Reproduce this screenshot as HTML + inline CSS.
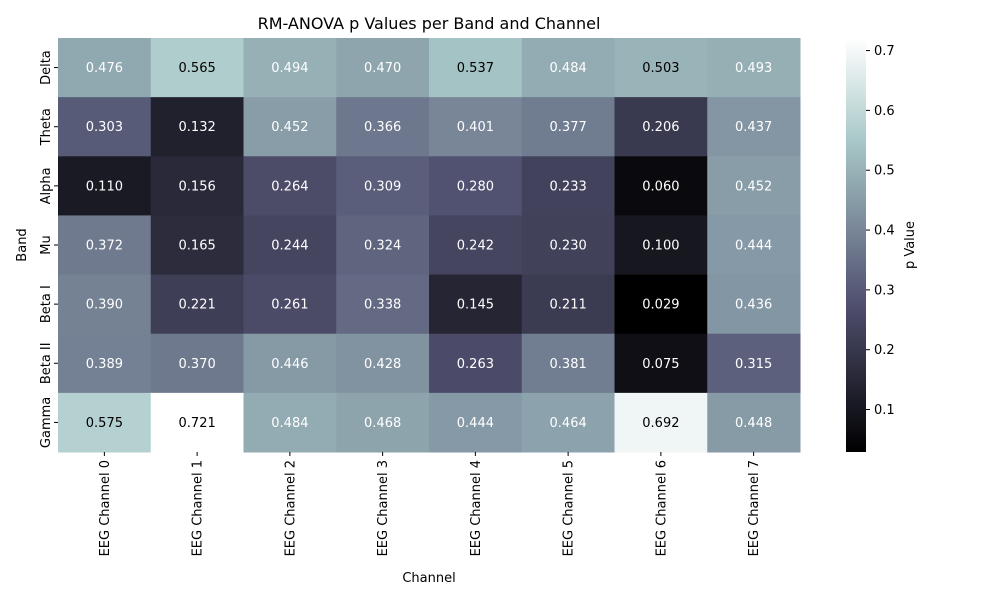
<!DOCTYPE html>
<html><head><meta charset="utf-8"><style>
body{margin:0;background:#fff;font-family:"DejaVu Sans","Liberation Sans",sans-serif}
svg text{font-family:"DejaVu Sans","Liberation Sans",sans-serif}
</style></head><body>
<svg id="chart" width="1000" height="600" xmlns="http://www.w3.org/2000/svg">
<defs><linearGradient id="cbg" x1="0" y1="1" x2="0" y2="0"></linearGradient></defs>
<text x="429" y="29" text-anchor="middle" font-size="16">RM-ANOVA p Values per Band and Channel</text>
<g id="cells"></g><g id="xt"></g><g id="yt"></g><g id="cb"></g>
<text x="429" y="582" text-anchor="middle" font-size="13">Channel</text>
<text transform="translate(26,245) rotate(-90)" text-anchor="middle" font-size="13">Band</text>
<text transform="translate(914,245) rotate(-90)" text-anchor="middle" font-size="13">p Value</text>
</svg>
<script>
const channels=["EEG Channel 0","EEG Channel 1","EEG Channel 2","EEG Channel 3","EEG Channel 4","EEG Channel 5","EEG Channel 6","EEG Channel 7"];
const bands=["Delta","Theta","Alpha","Mu","Beta I","Beta II","Gamma"];
const pValues=[
[0.476,0.565,0.494,0.470,0.537,0.484,0.503,0.493],
[0.303,0.132,0.452,0.366,0.401,0.377,0.206,0.437],
[0.110,0.156,0.264,0.309,0.280,0.233,0.060,0.452],
[0.372,0.165,0.244,0.324,0.242,0.230,0.100,0.444],
[0.390,0.221,0.261,0.338,0.145,0.211,0.029,0.436],
[0.389,0.370,0.446,0.428,0.263,0.381,0.075,0.315],
[0.575,0.721,0.484,0.468,0.444,0.464,0.692,0.448]];
const cbTicks=[0.1,0.2,0.3,0.4,0.5,0.6,0.7];
const NS="http://www.w3.org/2000/svg";
const X0=58,X1=800,Y0=38,Y1=452;
const flat=pValues.flat();const vmin=Math.min(...flat),vmax=Math.max(...flat);
const cw=(X1-X0)/channels.length,ch=(Y1-Y0)/bands.length;
function seg(t,pts){for(let i=1;i<pts.length;i++){if(t<=pts[i][0]){const a=pts[i-1],b=pts[i];return a[1]+(b[1]-a[1])*(t-a[0])/(b[0]-a[0]);}}return 1;}
function bone(t){t=Math.max(0,Math.min(1,t));
return [seg(t,[[0,0],[0.746032,0.652778],[1,1]]),seg(t,[[0,0],[0.365079,0.319444],[0.746032,0.777778],[1,1]]),seg(t,[[0,0],[0.365079,0.444444],[1,1]])];}
function css(c){return "rgb("+c.map(v=>Math.round(v*255)).join(",")+")";}
function lum(c){const l=c.map(v=>v<=0.03928?v/12.92:Math.pow((v+0.055)/1.055,2.4));return 0.2126*l[0]+0.7152*l[1]+0.0722*l[2];}
function el(tag,attrs,parent){const e=document.createElementNS(NS,tag);for(const k in attrs)e.setAttribute(k,attrs[k]);parent.appendChild(e);return e;}
const cells=document.getElementById('cells');
pValues.forEach((row,r)=>row.forEach((v,c)=>{
 const col=bone((v-vmin)/(vmax-vmin));
 const rect=el('rect',{x:X0+c*cw,y:Y0+r*ch,width:cw+0.5,height:ch+0.5,fill:css(col)},cells);
 
 
 const t=el('text',{x:X0+(c+0.5)*cw,y:Y0+(r+0.5)*ch+4.5,'text-anchor':'middle','font-size':13,fill:lum(col)>0.408?'#000':'#fff'},cells);
 t.textContent=v.toFixed(3);
 
 
}));
const xt=document.getElementById('xt');
channels.forEach((n,i)=>{const x=X0+(i+0.5)*cw;
 el('line',{x1:x,x2:x,y1:Y1,y2:Y1+4,stroke:'#000'},xt);
 const t=el('text',{transform:`translate(${x+4.5},${Y1+8}) rotate(-90)`,'text-anchor':'end','font-size':13},xt);
 t.textContent=n;
 
 });
const yt=document.getElementById('yt');
bands.forEach((n,i)=>{const y=Y0+(i+0.5)*ch;
 el('line',{x1:X0-4,x2:X0,y1:y,y2:y,stroke:'#000'},yt);
 const t=el('text',{transform:`translate(${X0-8},${y}) rotate(-90)`,'text-anchor':'middle','font-size':13},yt);
 t.textContent=n;
 
 });
const grad=document.getElementById('cbg');
for(let i=0;i<=20;i++){el('stop',{offset:(i/20),'stop-color':css(bone(i/20))},grad);}
const cb=document.getElementById('cb');
const bar=el('rect',{x:846,y:Y0,width:20,height:Y1-Y0,fill:'url(#cbg)'},cb);


cbTicks.forEach(v=>{const y=Y1-(v-vmin)/(vmax-vmin)*(Y1-Y0);
 el('line',{x1:866,x2:870,y1:y,y2:y,stroke:'#000'},cb);
 const t=el('text',{x:874,y:y+4.5,'font-size':13},cb);
 t.textContent=v.toFixed(1);
 
 });
</script>
</body></html>
